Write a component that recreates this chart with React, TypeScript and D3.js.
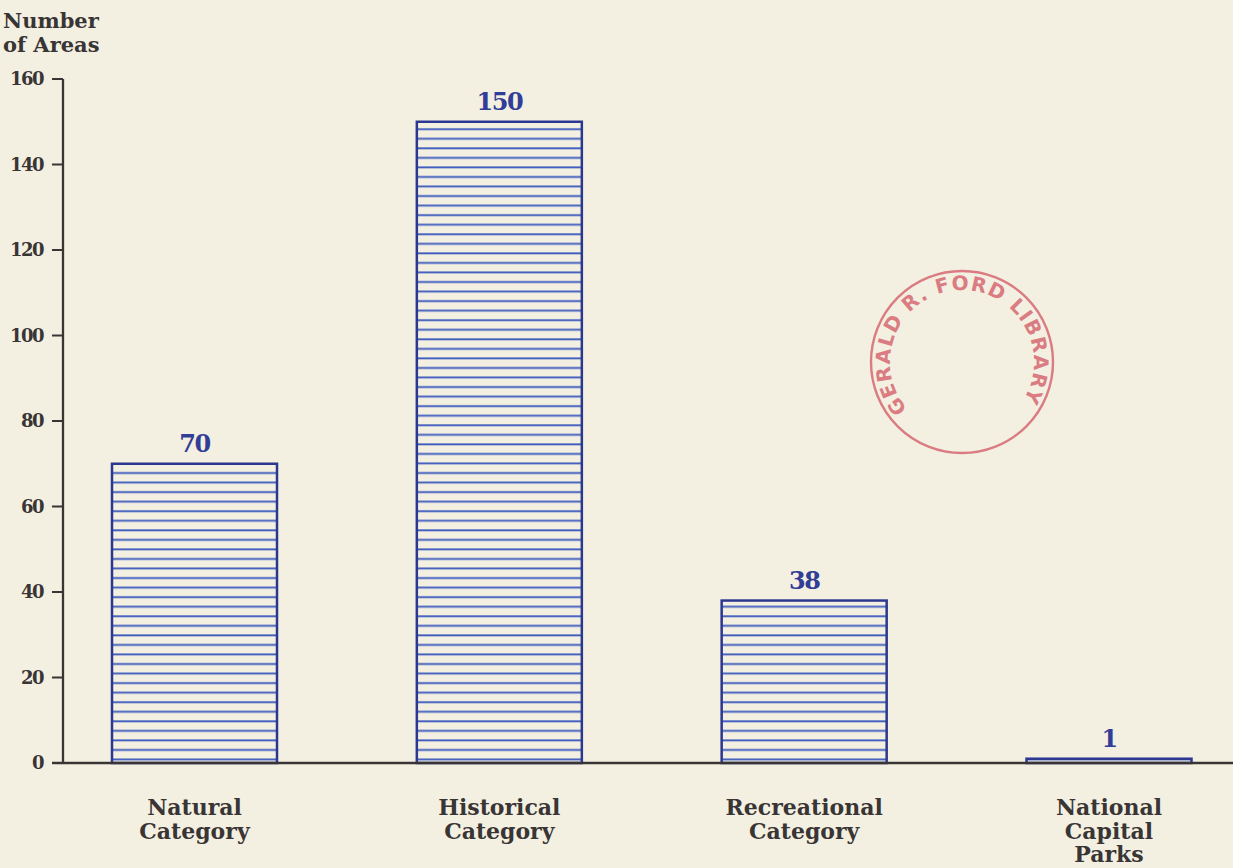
import React from 'react';
import * as d3 from 'd3';

const categories = ['Natural Category', 'Historical Category', 'Recreational Category', 'National Capital Parks'];
const categoryLines = [['Natural', 'Category'], ['Historical', 'Category'], ['Recreational', 'Category'], ['National', 'Capital', 'Parks']];
const values = [70, 150, 38, 1];
const yTicks = [0, 20, 40, 60, 80, 100, 120, 140, 160];
const yTitle = ['Number', 'of Areas'];
const stampText = 'GERALD R. FORD LIBRARY';

const W = 1233;
const H = 868;
const AXIS_X = 63;
const BAR_W = 165;
const FONT = "'DejaVu Serif', serif";
const INK = '#3a3535';
const BAR_STROKE = '#2c3790';
const HATCH = '#3f5cbd';
const VALUE_INK = '#313d96';
const STAMP = '#d8737a';

export default function App() {
  const y = d3.scaleLinear().domain([0, 160]).range([763, 79]);
  const x = d3.scalePoint<string>().domain(categories).range([194.5, 1109]);
  const y0 = y(0);

  const stampR = 72;
  const a0 = (-131 * Math.PI) / 180;
  const a1 = (121 * Math.PI) / 180;
  const sx = stampR * Math.sin(a0), sy = -stampR * Math.cos(a0);
  const ex = stampR * Math.sin(a1), ey = -stampR * Math.cos(a1);
  const arcLen = stampR * (a1 - a0);

  return (
    <svg width={W} height={H} style={{ position: 'absolute', left: 0, top: 0, background: '#f3f0e2' }}>
      <defs>
        <pattern id="hatch" patternUnits="userSpaceOnUse" width={20} height={9.55} y={y0}>
          <line x1={0} x2={20} y1={6.05} y2={6.05} stroke={HATCH} strokeWidth={1.9} />
        </pattern>
        <path id="stampArc" d={`M ${sx} ${sy} A ${stampR} ${stampR} 0 1 1 ${ex} ${ey}`} />
      </defs>
      <rect x={0} y={0} width={W} height={H} fill="#f3f0e2" />

      {/* y-axis title */}
      {yTitle.map((t, i) => (
        <text key={t} x={3} y={28 + i * 24} fontFamily={FONT} fontSize={21} fill={INK} fontWeight={600}>{t}</text>
      ))}

      {/* y-axis */}
      <line x1={AXIS_X} x2={AXIS_X} y1={y(160)} y2={y0} stroke={INK} strokeWidth={2.3} />
      {yTicks.map(t => (
        <g key={t}>
          <line x1={AXIS_X - 11} x2={AXIS_X} y1={y(t)} y2={y(t)} stroke={INK} strokeWidth={2} />
          <text x={AXIS_X - 20} y={y(t)} dy="0.36em" textAnchor="end" fontFamily={FONT} fontSize={18} fontWeight="bold" fill={INK} letterSpacing={-1.5}>{t}</text>
        </g>
      ))}

      {/* bars */}
      {categories.map((c, i) => {
        const cx = x(c)!;
        const top = y(values[i]);
        return (
          <g key={c}>
            <rect x={cx - BAR_W / 2} y={top} width={BAR_W} height={y0 - top} fill="url(#hatch)" stroke={BAR_STROKE} strokeWidth={2.5} />
            <text x={cx} y={top - 12} textAnchor="middle" fontFamily={FONT} fontSize={24} fontWeight={600} fill={VALUE_INK} letterSpacing={-1.5}>{values[i]}</text>
          </g>
        );
      })}

      {/* x-axis */}
      <line x1={AXIS_X - 11} x2={W} y1={y0} y2={y0} stroke={INK} strokeWidth={2.3} />

      {/* category labels */}
      {categories.map((c, i) => (
        <text key={c} x={x(c)!} textAnchor="middle" fontFamily={FONT} fontSize={22} fontWeight={600} fill={INK}>
          {categoryLines[i].map((l, j) => (
            <tspan key={j} x={x(c)!} y={815 + j * 23.5}>{l}</tspan>
          ))}
        </text>
      ))}

      {/* library stamp */}
      <g transform="translate(962,362)" opacity={0.92}>
        <circle r={91} fill="none" stroke={STAMP} strokeWidth={2.4} />
        <text fontFamily="'DejaVu Sans', sans-serif" fontSize={20} fontWeight={600} fill={STAMP}>
          <textPath href="#stampArc" textLength={arcLen} lengthAdjust="spacing">{stampText}</textPath>
        </text>
      </g>
    </svg>
  );
}
